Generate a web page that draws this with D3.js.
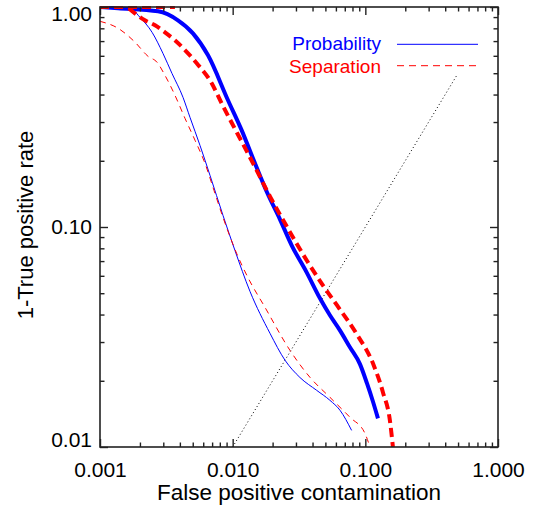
<!DOCTYPE html>
<html>
<head>
<meta charset="utf-8">
<script src="https://cdn.jsdelivr.net/npm/d3@7"></script>
<style>
  html, body { margin: 0; padding: 0; background: #fff; }
  svg { display: block; }
  text { font-family: "Liberation Sans", Arial, Helvetica, sans-serif; }
</style>
</head>
<body>
<svg id="chart" width="542" height="505"></svg>
<script>
// ---------- data ----------
const xTickValues = [0.001, 0.01, 0.1, 1];
const xTickLabels = ["0.001", "0.010", "0.100", "1.000"];
const yTickValues = [0.01, 0.1, 1];
const yTickLabels = ["0.01", "0.10", "1.00"];

const seriesNames = ["Probability", "Separation"];

// Probability, thick solid
const probThickX = [0.001, 0.00137, 0.00274, 0.00387, 0.00502, 0.00652, 0.00922, 0.0117, 0.01472, 0.01814, 0.02272, 0.02784, 0.03611, 0.0455, 0.05409, 0.06436, 0.07656, 0.0911, 0.1028, 0.1141, 0.1245];
const probThickY = [1.0, 0.987, 0.956, 0.870, 0.759, 0.603, 0.377, 0.275, 0.1948, 0.1438, 0.1084, 0.0826, 0.0622, 0.0474, 0.0397, 0.0339, 0.0284, 0.0238, 0.0195, 0.0161, 0.0135];

// Probability, thin solid
const probThinX = [0.001, 0.00154, 0.00177, 0.0020, 0.00247, 0.00298, 0.003488, 0.004222, 0.004767, 0.005669, 0.006745, 0.00845, 0.0104, 0.0135, 0.0191, 0.0248, 0.03215, 0.04295, 0.05409, 0.06436, 0.07882];
const probThinY = [0.987, 0.981, 0.966, 0.898, 0.767, 0.616, 0.499, 0.3886, 0.3152, 0.2351, 0.1718, 0.1130, 0.0783, 0.0510, 0.0329, 0.0248, 0.0207, 0.0181, 0.0163, 0.0147, 0.0119];

// Separation, thick dashed (first two points: flat segment along the top)
const sepThickX = [0.001, 0.00367, 0.00165, 0.00218, 0.0026, 0.00309, 0.00367, 0.00461, 0.00536, 0.00695, 0.00826, 0.00988, 0.01155, 0.01517, 0.0191, 0.02553, 0.03611, 0.0479, 0.0611, 0.08643, 0.1141, 0.1358, 0.1532, 0.1614];
const sepThickY = [1.0, 1.0, 0.985, 0.870, 0.826, 0.767, 0.706, 0.616, 0.555, 0.450, 0.365, 0.2961, 0.248, 0.1810, 0.1378, 0.1007, 0.0706, 0.0543, 0.0441, 0.0325, 0.0240, 0.0177, 0.0132, 0.0100];

// Separation, thin dashed
const sepThinX = [0.001, 0.00137, 0.00184, 0.0023, 0.00269, 0.003089, 0.003674, 0.004371, 0.0052, 0.006183, 0.007227, 0.00845, 0.0107, 0.0130, 0.0175, 0.02704, 0.03824, 0.05409, 0.07656, 0.09931, 0.1083];
const sepThinY = [0.861, 0.800, 0.691, 0.597, 0.561, 0.489, 0.3968, 0.3119, 0.248, 0.1948, 0.1468, 0.1107, 0.0760, 0.0591, 0.0432, 0.0275, 0.02074, 0.01682, 0.01365, 0.01154, 0.0100];

// one-to-one reference line
const diagX = [0.01, 0.49];
const diagY = [0.01, 0.49];

// ---------- layout ----------
const PL = 100, PR = 498, PT = 7, PB = 447;
const BLUE = "#0000ff", RED = "#ff0000";

const svg = d3.select("#chart");
const x = d3.scaleLog().domain([0.001, 1]).range([PL, PR]);
const y = d3.scaleLog().domain([0.01, 1]).range([PB, PT]);

svg.append("defs").append("clipPath").attr("id", "clip")
  .append("rect").attr("x", PL).attr("y", PT - 1)
  .attr("width", PR - PL).attr("height", PB - PT + 1);

const zip = (xs, ys) => xs.map((v, i) => [v, ys[i]]);
const line = d3.line().x(d => x(d[0])).y(d => y(d[1]));
const smooth = d3.line().x(d => x(d[0])).y(d => y(d[1])).curve(d3.curveMonotoneX);

const plot = svg.append("g").attr("clip-path", "url(#clip)");

plot.append("path").attr("d", line(zip(diagX, diagY)))
  .attr("fill", "none").attr("stroke", "#000").attr("stroke-width", 1)
  .attr("stroke-dasharray", "1,2.6");

plot.append("path").attr("d", smooth(zip(probThinX, probThinY)))
  .attr("fill", "none").attr("stroke", BLUE).attr("stroke-width", 1);
plot.append("path").attr("d", smooth(zip(sepThinX, sepThinY)))
  .attr("fill", "none").attr("stroke", RED).attr("stroke-width", 1)
  .attr("stroke-dasharray", "6,5");
plot.append("path").attr("d", smooth(zip(probThickX, probThickY)))
  .attr("fill", "none").attr("stroke", BLUE).attr("stroke-width", 4)
  .attr("stroke-linejoin", "round");
const sepThick = zip(sepThickX, sepThickY);
plot.append("path").attr("d", line(sepThick.slice(0, 2)))
  .attr("fill", "none").attr("stroke", RED).attr("stroke-width", 4)
  .attr("stroke-dasharray", "9,5");
plot.append("path").attr("d", smooth(sepThick.slice(2)))
  .attr("fill", "none").attr("stroke", RED).attr("stroke-width", 4)
  .attr("stroke-dasharray", "9,5");

// ---------- axes ----------
const minorX = x.ticks().filter(v => !xTickValues.some(m => Math.abs(Math.log10(v / m)) < 1e-6));
const minorY = y.ticks().filter(v => !yTickValues.some(m => Math.abs(Math.log10(v / m)) < 1e-6));
const AX = "#222";
const MAJ = 8, MIN = 4.5;

function styleAxis(g) {
  g.select(".domain").remove();
  g.selectAll(".tick line").attr("stroke", AX).attr("stroke-width", 1.4);
  g.selectAll(".tick text").attr("fill", "#000").attr("font-size", 21)
    .attr("font-family", "'Liberation Sans', Arial, Helvetica, sans-serif");
}

// bottom
svg.append("g").attr("transform", `translate(0,${PB})`)
  .call(d3.axisBottom(x).tickValues(xTickValues).tickSizeInner(-MAJ).tickSizeOuter(0)
    .tickPadding(15).tickFormat((d, i) => xTickLabels[i]))
  .call(styleAxis);
svg.append("g").attr("transform", `translate(0,${PB})`)
  .call(d3.axisBottom(x).tickValues(minorX).tickSizeInner(-MIN).tickSizeOuter(0).tickFormat(""))
  .call(styleAxis);
// top
svg.append("g").attr("transform", `translate(0,${PT})`)
  .call(d3.axisTop(x).tickValues(xTickValues).tickSizeInner(-MAJ).tickSizeOuter(0).tickFormat(""))
  .call(styleAxis);
svg.append("g").attr("transform", `translate(0,${PT})`)
  .call(d3.axisTop(x).tickValues(minorX).tickSizeInner(-MIN).tickSizeOuter(0).tickFormat(""))
  .call(styleAxis);
// left
const leftAxis = svg.append("g").attr("transform", `translate(${PL},0)`)
  .call(d3.axisLeft(y).tickValues(yTickValues).tickSizeInner(-MAJ).tickSizeOuter(0)
    .tickPadding(8).tickFormat((d, i) => yTickLabels[i]))
  .call(styleAxis);
svg.append("g").attr("transform", `translate(${PL},0)`)
  .call(d3.axisLeft(y).tickValues(minorY).tickSizeInner(-MIN).tickSizeOuter(0).tickFormat(""))
  .call(styleAxis);
// right
svg.append("g").attr("transform", `translate(${PR},0)`)
  .call(d3.axisRight(y).tickValues(yTickValues).tickSizeInner(-MAJ).tickSizeOuter(0).tickFormat(""))
  .call(styleAxis);
svg.append("g").attr("transform", `translate(${PR},0)`)
  .call(d3.axisRight(y).tickValues(minorY).tickSizeInner(-MIN).tickSizeOuter(0).tickFormat(""))
  .call(styleAxis);

// keep end labels of the y axis inside the frame
leftAxis.selectAll(".tick").each(function (d) {
  const pos = y(d);
  const c = Math.min(Math.max(pos, PT + 6.5), PB - 7);
  d3.select(this).select("text").attr("y", c - pos);
});

// frame
svg.append("rect").attr("x", PL).attr("y", PT)
  .attr("width", PR - PL).attr("height", PB - PT)
  .attr("fill", "none").attr("stroke", AX).attr("stroke-width", 1.6);

// axis titles
svg.append("text").attr("x", (PL + PR) / 2).attr("y", 500)
  .attr("text-anchor", "middle").attr("font-size", 22.5).attr("fill", "#000")
  .text("False positive contamination");
svg.append("text").attr("transform", `translate(33,225) rotate(-90)`)
  .attr("text-anchor", "middle").attr("font-size", 22).attr("fill", "#000")
  .text("1-True positive rate");

// legend
const legend = svg.append("g");
const legRows = [
  { name: seriesNames[0], color: BLUE, dash: null, base: 50, ly: 44.3 },
  { name: seriesNames[1], color: RED, dash: "7,5", base: 72.5, ly: 65.7 }
];
legRows.forEach(r => {
  legend.append("text").attr("x", 381).attr("y", r.base).attr("text-anchor", "end")
    .attr("font-size", 19).attr("fill", r.color).text(r.name);
  legend.append("line").attr("x1", 397).attr("x2", 478).attr("y1", r.ly).attr("y2", r.ly)
    .attr("stroke", r.color).attr("stroke-width", 1)
    .attr("stroke-dasharray", r.dash);
});
</script>
</body>
</html>
